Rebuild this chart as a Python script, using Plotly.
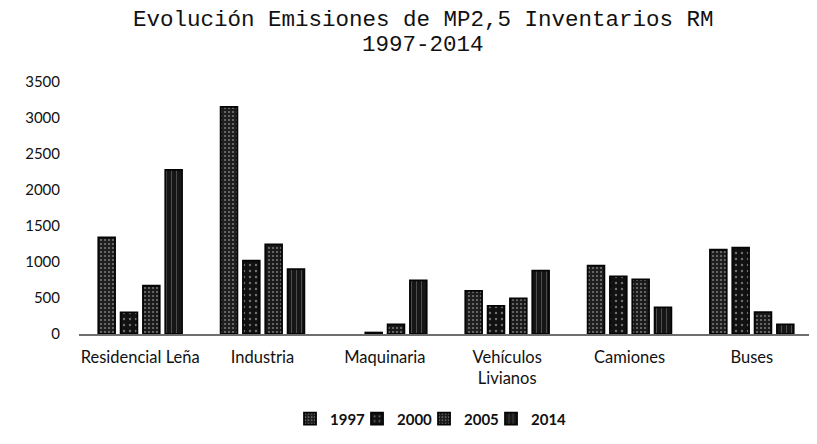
import plotly.graph_objects as go

categories = ["Residencial Leña", "Industria", "Maquinaria", "Vehículos<br>Livianos", "Camiones", "Buses"]
years = ["1997", "2000", "2005", "2014"]
v1997 = [1340, 3155, None, 600, 950, 1170]
v2000 = [300, 1020, 20, 390, 800, 1200]
v2005 = [670, 1245, 135, 495, 760, 305]
v2014 = [2280, 900, 745, 880, 370, 135]
y_ticks = [0, 500, 1000, 1500, 2000, 2500, 3000, 3500]
title_lines = ["Evolución Emisiones de MP2,5 Inventarios RM", "1997-2014"]

series = [v1997, v2000, v2005, v2014]
fills = ["#1e1e1e", "#111111", "#1a1a1a", "#161616"]
patterns = [".", ".", ".", "|"]
pat_sizes = [4, 6, 4, 5]
pat_sol = [0.22, 0.12, 0.22, 0.12]

fig = go.Figure()
for name, vals, fc, pt, ps, so in zip(years, series, fills, patterns, pat_sizes, pat_sol):
    fig.add_trace(go.Bar(
        x=categories, y=vals, name=name,
        marker=dict(color=fc,
                    line=dict(color="#050505", width=1.8),
                    pattern=dict(shape=pt, fgcolor="#d0d0d0", bgcolor=fc, size=ps, solidity=so)),
    ))

# spacer legend entry (no visible mark) so the last legend label is not clipped
fig.add_trace(go.Scatter(x=[None], y=[None], mode="markers", name=" ",
                         marker=dict(color="rgba(0,0,0,0)", size=1), hoverinfo="skip"))

# page body adds an 8px offset; margins compensate
title_font = dict(family="Liberation Mono", size=22.5, color="#111111")
fig.add_annotation(text=title_lines[0], xref="paper", yref="paper", x=0.4687, y=1.246,
                   xanchor="center", yanchor="middle", showarrow=False, font=title_font)
fig.add_annotation(text=title_lines[1], xref="paper", yref="paper", x=0.4687, y=1.147,
                   xanchor="center", yanchor="middle", showarrow=False, font=title_font)

fig.update_layout(
    width=817, height=444,
    margin=dict(l=71, r=12, t=74, b=118),
    paper_bgcolor="white", plot_bgcolor="white",
    barmode="group", bargap=0.27, bargroupgap=0.25,
    xaxis=dict(showline=True, linecolor="#6e6e6e", linewidth=1.5, ticks="",
               ticklabelstandoff=7,
               tickfont=dict(family="Lato", size=16.5, color="#111111"),
               showgrid=False, zeroline=False),
    yaxis=dict(range=[0, 3500], tickvals=y_ticks, showgrid=False, zeroline=False,
               showline=False, ticks="", ticklabelstandoff=18,
               tickfont=dict(family="Lato", size=15, color="#111111")),
    legend=dict(orientation="h", x=0.2875, xanchor="left", y=-0.337, yanchor="middle",
                font=dict(family="Lato", size=15, color="#111111", weight="bold"),
                itemwidth=30, entrywidth=22, entrywidthmode="pixels", traceorder="normal"),
    showlegend=True,
)

fig.write_html("out.html")
